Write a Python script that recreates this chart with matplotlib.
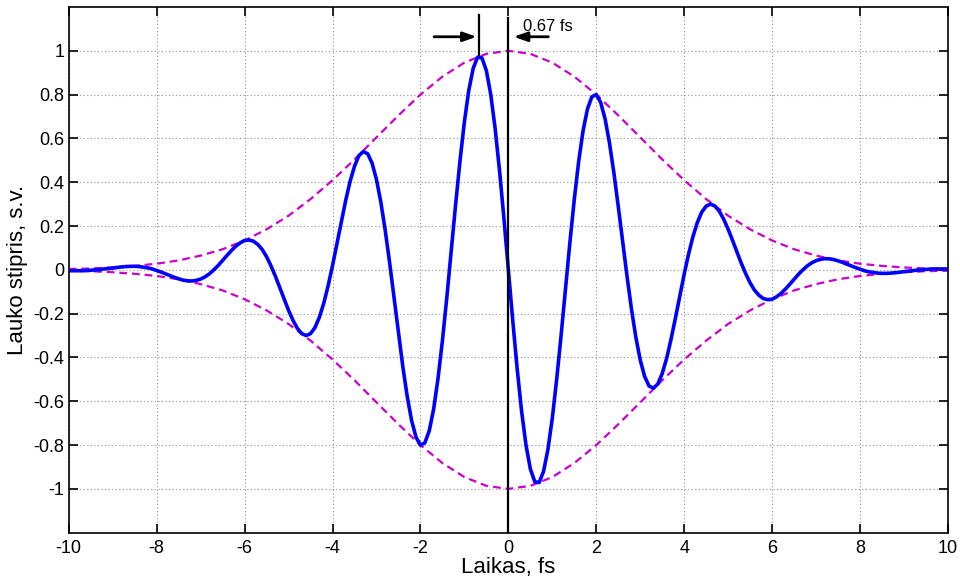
#!/usr/bin/env python3
"""Few-cycle light pulse: field strength vs time with Gaussian envelope."""

import numpy as np
import matplotlib
matplotlib.use("Agg")
import matplotlib.pyplot as plt

FIELD_POS = [
    0.000, -0.232, -0.451, -0.644, -0.799, -0.909, -0.967, -0.971, -0.920, -0.820,
    -0.676, -0.498, -0.298, -0.085, 0.126, 0.323, 0.496, 0.636, 0.735, 0.790,
    0.800, 0.764, 0.689, 0.579, 0.443, 0.289, 0.128, -0.031, -0.179, -0.308,
    -0.412, -0.487, -0.530, -0.540, -0.521, -0.473, -0.404, -0.317, -0.220, -0.119,
    -0.019, 0.073, 0.153, 0.217, 0.264, 0.291, 0.300, 0.291, 0.267, 0.230,
    0.185, 0.134, 0.081, 0.029, -0.018, -0.060, -0.093, -0.116, -0.131, -0.136,
    -0.134, -0.123, -0.108, -0.088, -0.066, -0.043, -0.020, 0.000, 0.018, 0.032,
    0.042, 0.048, 0.051, 0.050, 0.047, 0.041, 0.034, 0.026, 0.018, 0.010,
    0.003, -0.004, -0.009, -0.012, -0.015, -0.016, -0.016, -0.015, -0.013, -0.011,
    -0.008, -0.006, -0.004, -0.001, 0.000, 0.002, 0.003, 0.004, 0.004, 0.004,
    0.004,
]
# negative-time half is the mirror image (odd pulse)
field = [-v for v in FIELD_POS[:0:-1]] + FIELD_POS
time_fs = np.linspace(-10, 10, len(field))

# envelope sampled every 0.5 fs from 0 to 10 fs
ENV_POS = [1.000, 0.986, 0.946, 0.882, 0.800, 0.705, 0.605, 0.504, 0.409, 0.323,
           0.247, 0.185, 0.134, 0.094, 0.065, 0.043, 0.028, 0.018, 0.011, 0.006,
           0.004]
envelope = ENV_POS[:0:-1] + ENV_POS
env_time = np.linspace(-10, 10, len(envelope))

XTICKS = [-10, -8, -6, -4, -2, 0, 2, 4, 6, 8, 10]
YTICKS = [-1, -0.8, -0.6, -0.4, -0.2, 0, 0.2, 0.4, 0.6, 0.8, 1]

plt.rcParams["font.family"] = ["Liberation Sans", "DejaVu Sans"]
plt.rcParams["axes.unicode_minus"] = False

fig = plt.figure(figsize=(9.6, 5.81), dpi=100)
ax = fig.add_axes([0.0716, 0.0831, 0.9159, 0.9049])

ax.grid(True, color="#909090", linestyle=(0, (1, 2.2)), linewidth=0.8)
ax.set_axisbelow(True)

dash = (0, (3.5, 2.2))
ax.plot(env_time, envelope, color=(0.8, 0, 0.8), linestyle=dash, lw=1.6)
ax.plot(env_time, [-v for v in envelope], color=(0.8, 0, 0.8), linestyle=dash, lw=1.6)
ax.plot(time_fs, field, color="#0000ff", lw=2.6)

# quarter-period marker
ax.plot([0, 0], [-1.2, 1.15], color="black", lw=1.6)
ax.plot([-0.67, -0.67], [0.98, 1.165], color="black", lw=1.6)
arrow = dict(arrowstyle="-|>,head_length=0.8,head_width=0.28", color="black",
             lw=2.0, shrinkA=0, shrinkB=0)
ax.annotate("", xy=(-0.72, 1.064), xytext=(-1.69, 1.064), arrowprops=arrow)
ax.annotate("", xy=(0.12, 1.064), xytext=(0.91, 1.064), arrowprops=arrow)
ax.text(0.34, 1.11, "0.67 fs", fontsize=12, va="center", ha="left")

ax.set_xlim(-10, 10)
ax.set_ylim(-1.2, 1.2)
ax.set_xticks(XTICKS)
ax.set_yticks(YTICKS)
ax.set_xticklabels([f"{v:g}" for v in XTICKS])
ax.set_yticklabels([f"{v:g}" for v in YTICKS])
ax.tick_params(direction="in", length=6.5, width=1.2, top=True, right=True,
               labelsize=13)
ax.tick_params(axis="x", pad=5)
ax.tick_params(axis="y", pad=3)
for sp in ax.spines.values():
    sp.set_linewidth(1.2)

ax.set_xlabel("Laikas, fs", fontsize=16, labelpad=0)
ax.set_ylabel("Lauko stipris, s.v.", fontsize=16, labelpad=4)

fig.savefig("out.png", dpi=100)
